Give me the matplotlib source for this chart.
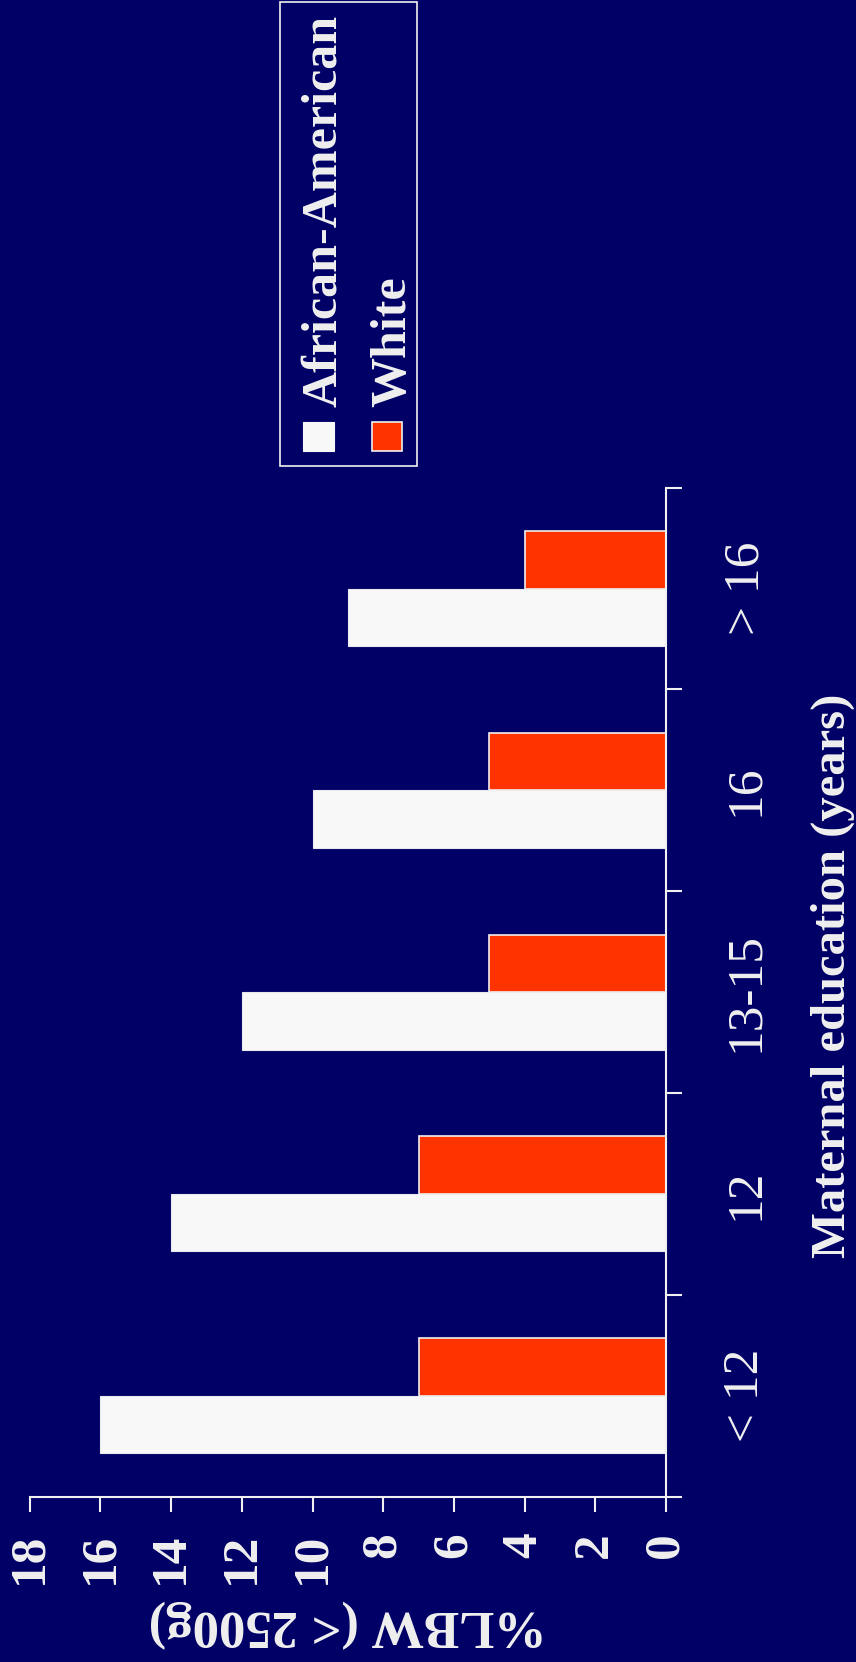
import matplotlib
matplotlib.use("Agg")
import matplotlib.pyplot as plt
from matplotlib.patches import Rectangle
import numpy as np

# low birth weight by maternal education, drawn sideways
categories = ["< 12", "12", "13-15", "16", "> 16"]
african_american = [16, 14, 12, 10, 9]
white = [7, 7, 5, 5, 4]
value_ticks = list(range(0, 20, 2))

bg = "#000066"
fg = "#F0F0F0"
red = "#FF3300"
light = "#F8F8F8"

plt.rcParams["font.family"] = ["Liberation Serif", "DejaVu Serif"]

W, H = 856, 1662
fig = plt.figure(figsize=(W / 100, H / 100), dpi=100, facecolor=bg)

# axes box in pixels (from top-left), converted to figure fractions
left_px, right_px, top_px, bottom_px = 29.7, 666.0, 487.7, 1496.5
ax = fig.add_axes([left_px / W, 1 - bottom_px / H,
                   (right_px - left_px) / W, (bottom_px - top_px) / H])
ax.set_facecolor(bg)

pos = np.arange(len(categories))
h = 0.285
ax.barh(pos - h / 2, african_american, height=h, color=light,
        edgecolor="#E8E8EE", linewidth=0.8)
ax.barh(pos + h / 2, white, height=h, color=red,
        edgecolor=fg, linewidth=1.2)

ax.set_xlim(18, 0)
ax.set_ylim(-0.5, len(categories) - 0.5)

for s in ("left", "top"):
    ax.spines[s].set_visible(False)
for s in ("bottom", "right"):
    ax.spines[s].set_color(fg)
    ax.spines[s].set_linewidth(1.5)

# value axis along the bottom
ax.set_xticks(value_ticks)
ax.set_xticklabels([str(v) for v in value_ticks], rotation=90,
                   fontsize=37, fontweight="bold", color=fg,
                   va="top", ha="center")
ax.tick_params(axis="x", direction="out", length=11, width=1.5,
               color=fg, pad=15)

# category axis along the right side
ax.yaxis.tick_right()
ax.set_yticks(pos)
ax.set_yticklabels(categories, rotation=90, fontsize=37, color=fg,
                   va="center", ha="left")
ax.set_yticks(np.arange(-0.5, len(categories), 1.0), minor=True)
ax.tick_params(axis="y", which="major", length=0, pad=41)
ax.tick_params(axis="y", which="minor", direction="out", length=11.5,
               width=1.5, color=fg)

ax.set_xlabel("%LBW (< 2500g)", rotation=180, fontsize=38,
              fontweight="bold", color=fg, ha="center", va="center")
ax.xaxis.set_label_coords(0.5, -0.1254)

ax.yaxis.set_label_position("right")
ax.set_ylabel("Maternal education (years)", rotation=90, fontsize=35,
              fontweight="bold", color=fg, ha="center", va="center")
ax.yaxis.set_label_coords(1.2625, 0.516)

# legend, built by hand so it can be turned with the rest
def px(x, y):
    return x / W, 1 - y / H

fig.patches.append(Rectangle(px(280, 466), 137 / W, 464 / H,
                             transform=fig.transFigure, fill=False,
                             edgecolor=fg, linewidth=1.2))
fig.patches.append(Rectangle(px(303, 451), 31 / W, 29 / H,
                             transform=fig.transFigure, facecolor=light,
                             edgecolor=light, linewidth=0.8))
fig.patches.append(Rectangle(px(372, 451), 30 / W, 29 / H,
                             transform=fig.transFigure, facecolor=red,
                             edgecolor=fg, linewidth=1.2))
fig.text(*px(336, 407), "African-American", rotation=90,
         rotation_mode="anchor", ha="left", va="baseline",
         fontsize=36, fontweight="bold", color=fg)
fig.text(*px(405, 407), "White", rotation=90,
         rotation_mode="anchor", ha="left", va="baseline",
         fontsize=36, fontweight="bold", color=fg)

fig.savefig("out.png", dpi=100, facecolor=bg)
